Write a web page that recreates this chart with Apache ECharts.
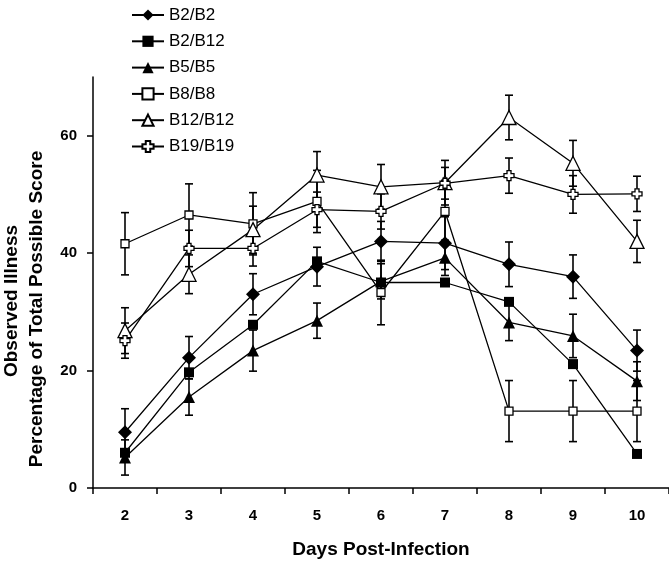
<!DOCTYPE html>
<html>
<head>
<meta charset="utf-8">
<script src="https://cdn.jsdelivr.net/npm/echarts@6/dist/echarts.min.js"></script>
<style>html,body{margin:0;padding:0;background:#fff}#c{width:669px;height:564px}</style>
</head>
<body>
<div id="c"></div>
<script>
const days = ['2','3','4','5','6','7','8','9','10'];
const yTicks = [0, 20, 40, 60];
const seriesNames = ['B2/B2','B2/B12','B5/B5','B8/B8','B12/B12','B19/B19'];
const b2b2 = [9.5, 22.2, 33.0, 37.7, 42.0, 41.7, 38.1, 36.0, 23.4];
const b2b2Err = [4, 3.6, 3.5, 3.3, 3.4, 4.5, 3.8, 3.7, 3.5];
const b2b12 = [6.0, 19.7, 27.8, 38.6, 35.0, 35.0, 31.7, 21.1, 5.8];
const b2b12Err = null;
const b5b5 = [5.2, 15.5, 23.4, 28.5, 35.2, 39.2, 28.2, 25.9, 18.2];
const b5b5Err = [3, 3.1, 3.5, 3, 3, 3, 3.1, 3.7, 3.3];
const b8b8 = [41.6, 46.5, 45.0, 48.8, 33.3, 47.1, 13.1, 13.1, 13.1];
const b8b8Err = [5.3, 5.3, 5.3, 5.3, 5.5, 5.3, 5.2, 5.2, 5.2];
const b12b12 = [26.8, 36.4, 44.0, 53.3, 51.3, 52.0, 63.1, 55.3, 42.0];
const b12b12Err = [3.9, 3.3, 4, 4, 3.8, 3.8, 3.8, 3.9, 3.6];
const b19b19 = [25.1, 40.8, 40.8, 47.4, 47.1, 51.9, 53.2, 50.0, 50.1];
const b19b19Err = [3, 3.1, 3, 3, 3, 2.7, 3, 3.2, 3];

const FONT = '"Liberation Sans", Arial, Helvetica, sans-serif';
const plusPath = 'path://M3,0H7V3H10V7H7V10H3V7H0V3H3Z';

const styles = [
  {symbol: 'diamond', size: 14, fill: '#000'},
  {symbol: 'rect', size: 10, fill: '#000'},
  {symbol: 'triangle', size: 12, fill: '#000'},
  {symbol: 'rect', size: 8, fill: '#fff'},
  {symbol: 'triangle', size: 14, fill: '#fff'},
  {symbol: plusPath, size: 10, fill: '#fff'}
];
const values = [b2b2, b2b12, b5b5, b8b8, b12b12, b19b19];
const errs = [b2b2Err, b2b12Err, b5b5Err, b8b8Err, b12b12Err, b19b19Err];

function lineSeries(i) {
  const s = styles[i];
  return {
    name: seriesNames[i], type: 'line', data: values[i], z: 3,
    symbol: s.symbol, symbolSize: s.size, showAllSymbol: true,
    lineStyle: {color: '#000', width: 1.3},
    itemStyle: {color: s.fill, borderColor: '#000', borderWidth: s.fill === '#fff' ? 1.3 : 0},
    emphasis: {disabled: true}, animation: false
  };
}
function errSeries(i) {
  const v = values[i], e = errs[i];
  const data = [];
  if (e) v.forEach((val, k) => data.push([k, val - e[k], val + e[k]]));
  return {
    type: 'custom', z: 1, silent: true, animation: false,
    data: data,
    encode: {x: 0, y: [1, 2]},
    renderItem: function (params, api) {
      const x = api.value(0);
      const lo = api.coord([x, api.value(1)]);
      const hi = api.coord([x, api.value(2)]);
      const h = 4;
      const st = {stroke: '#000', lineWidth: 1.6, fill: null};
      return {type: 'group', children: [
        {type: 'line', shape: {x1: lo[0], y1: lo[1], x2: hi[0], y2: hi[1]}, style: st},
        {type: 'line', shape: {x1: lo[0] - h, y1: lo[1], x2: lo[0] + h, y2: lo[1]}, style: st},
        {type: 'line', shape: {x1: hi[0] - h, y1: hi[1], x2: hi[0] + h, y2: hi[1]}, style: st}
      ]};
    }
  };
}

const series = [];
for (let i = 0; i < 6; i++) series.push(errSeries(i));
for (let i = 0; i < 6; i++) series.push(lineSeries(i));

const chart = echarts.init(document.getElementById('c'), null, {renderer: 'canvas'});
chart.setOption({
  backgroundColor: '#fff',
  animation: false,
  grid: {left: 93, right: 0, top: 77, bottom: 74, containLabel: false},
  legend: {
    orient: 'vertical', left: 131, top: 6, padding: 0,
    itemWidth: 32, itemHeight: 14, itemGap: 8.3,
    data: seriesNames,
    textStyle: {fontFamily: FONT, fontSize: 17, color: '#000', lineHeight: 18},
    selectedMode: false
  },
  xAxis: {
    type: 'category', data: days, boundaryGap: true,
    axisLine: {lineStyle: {color: '#000', width: 1.5}},
    axisTick: {show: true, length: 6, lineStyle: {color: '#000', width: 1.5}},
    axisLabel: {fontFamily: FONT, fontSize: 15, fontWeight: 'bold', color: '#000', margin: 20},
    name: 'Days Post-Infection', nameLocation: 'middle', nameGap: 52,
    nameTextStyle: {fontFamily: FONT, fontSize: 19, fontWeight: 'bold', color: '#000'}
  },
  yAxis: {
    type: 'value', min: 0, max: 70, interval: 20,
    splitLine: {show: false},
    axisLine: {show: true, lineStyle: {color: '#000', width: 1.5}},
    axisTick: {show: true, length: 6, customValues: yTicks, lineStyle: {color: '#000', width: 1.5}},
    axisLabel: {customValues: yTicks, fontFamily: FONT, fontSize: 15, fontWeight: 'bold', color: '#000', margin: 16}
  },
  graphic: [
    {type: 'text', x: 12, y: 301, rotation: Math.PI / 2,
     style: {text: 'Observed Illness', fontFamily: FONT, fontSize: 19, fontWeight: 'bold', fill: '#000', textAlign: 'center', textVerticalAlign: 'middle'}},
    {type: 'text', x: 37, y: 309, rotation: Math.PI / 2,
     style: {text: 'Percentage of Total Possible Score', fontFamily: FONT, fontSize: 19, fontWeight: 'bold', fill: '#000', textAlign: 'center', textVerticalAlign: 'middle'}}
  ],
  series: series
});
</script>
</body>
</html>
